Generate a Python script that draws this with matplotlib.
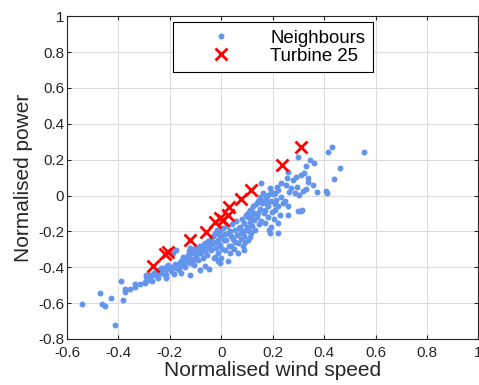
import numpy as np
import matplotlib.pyplot as plt

plt.rcParams['font.family'] = ['Liberation Sans', 'DejaVu Sans']

# neighbours (normalised wind speed, normalised power)
nb_wind = [
    -0.541, -0.473, -0.464, -0.453, -0.430, -0.412, -0.392, -0.382, -0.376, -0.376,
    -0.356, -0.334, -0.334, -0.317, -0.295, -0.291, -0.278, -0.271, -0.265, -0.298,
    -0.291, -0.285, -0.278,
    -0.259, -0.259, -0.252, -0.246, -0.243, -0.240, -0.233, -0.227, -0.224, -0.220,
    -0.214, -0.214, -0.210, -0.207, -0.200, -0.194, -0.190, -0.188, -0.185, -0.181,
    -0.178, -0.175, -0.170, -0.165, -0.162, -0.160, -0.155, -0.152, -0.149, -0.145,
    -0.140, -0.136, -0.132, -0.128, -0.126, -0.123, -0.123, -0.120, -0.117, -0.115,
    -0.110, -0.110, -0.107, -0.105, -0.100, -0.097, -0.095, -0.092, -0.090, -0.088,
    -0.084, -0.084, -0.082, -0.078, -0.075, -0.071, -0.070, -0.068, -0.065, -0.065,
    -0.062, -0.058, -0.055, -0.052, -0.052, -0.049, -0.045, -0.042, -0.039, -0.036,
    -0.033, -0.030, -0.026, -0.026, -0.022, -0.020, -0.016, -0.013, -0.013, -0.013,
    -0.010, -0.007, -0.007, -0.004, 0.000, 0.000, 0.003, 0.006, 0.010, 0.013,
    0.016, 0.019, 0.022, 0.026, 0.026, 0.029, 0.032, 0.035, 0.039, 0.039,
    0.042, 0.045, 0.048, 0.052, 0.055, 0.058, 0.062, 0.065, 0.065, 0.068,
    0.071, 0.075, 0.078, 0.081, 0.084, 0.088, 0.090, 0.090, 0.090, 0.094,
    0.097, 0.100, 0.103, 0.103, 0.103, 0.107, 0.110, 0.110, 0.113, 0.116,
    0.116, 0.116, 0.120, 0.123, 0.126, 0.129, 0.132, 0.136, 0.139, 0.142,
    0.142, 0.146, 0.149, 0.152, 0.155, 0.155, 0.158, 0.162, 0.162, 0.165,
    0.168, 0.168, 0.172, 0.175, 0.178, 0.181, 0.181, 0.181, 0.185, 0.188,
    0.191, 0.194, 0.194, 0.194, 0.198, 0.201, 0.204, 0.207, 0.207, 0.210,
    0.214, 0.217, 0.220, 0.220, 0.220, 0.220, 0.227, 0.233, 0.233, 0.240,
    0.246, 0.252, 0.255, 0.259, 0.259, 0.259, 0.265, 0.272, 0.278, 0.285,
    0.291, 0.295, 0.298, 0.298, 0.304, 0.311, 0.311, 0.315, 0.317, 0.323,
    0.330, 0.330, 0.336, 0.339, 0.343, 0.356, 0.362, 0.373, 0.408, 0.410,
    0.414, 0.430, 0.437, 0.462, 0.554,
]
nb_power = [
    -0.605, -0.544, -0.605, -0.618, -0.574, -0.720, -0.477, -0.585, -0.520, -0.540,
    -0.522, -0.510, -0.494, -0.494, -0.483, -0.442, -0.460, -0.475, -0.440, -0.488,
    -0.455, -0.470, -0.445,
    -0.442, -0.425, -0.450, -0.460, -0.414, -0.430, -0.405, -0.405, -0.438, -0.420,
    -0.442, -0.460, -0.395, -0.386, -0.410, -0.423, -0.400, -0.321, -0.440, -0.382,
    -0.405, -0.302, -0.395, -0.415, -0.395, -0.370, -0.432, -0.360, -0.343, -0.385,
    -0.400, -0.367, -0.350, -0.330, -0.312, -0.293, -0.442, -0.375, -0.355, -0.320,
    -0.358, -0.312, -0.300, -0.385, -0.340, -0.330, -0.290, -0.360, -0.310, -0.320,
    -0.312, -0.414, -0.280, -0.321, -0.300, -0.293, -0.350, -0.270, -0.265, -0.395,
    -0.310, -0.275, -0.330, -0.256, -0.284, -0.410, -0.300, -0.240, -0.302, -0.270,
    -0.228, -0.350, -0.210, -0.340, -0.260, -0.290, -0.190, -0.247, -0.321, -0.364,
    -0.220, -0.200, -0.377, -0.275, -0.228, -0.349, -0.300, -0.180, -0.250, -0.302,
    -0.215, -0.247, -0.170, -0.210, -0.367, -0.280, -0.320, -0.195, -0.228, -0.284,
    -0.160, -0.240, -0.300, -0.191, -0.260, -0.140, -0.220, -0.265, -0.321, -0.180,
    -0.173, -0.240, -0.210, -0.130, -0.280, -0.195, -0.154, -0.228, -0.302, -0.260,
    -0.110, -0.175, -0.117, -0.098, -0.247, -0.200, -0.080, -0.150, -0.230, -0.080,
    -0.117, -0.210, -0.170, -0.061, -0.100, -0.135, -0.190, -0.050, -0.120, -0.033,
    -0.098, -0.160, -0.006, -0.075, 0.069, -0.140, -0.040, 0.013, -0.033, -0.100,
    -0.080, -0.154, -0.010, -0.024, -0.050, 0.004, -0.061, -0.117, -0.190, -0.210,
    0.040, 0.022, -0.033, -0.173, -0.090, 0.010, -0.130, 0.013, -0.080, -0.045,
    -0.024, 0.050, 0.032, -0.061, -0.154, -0.210, -0.110, 0.069, -0.006, -0.040,
    -0.033, 0.060, 0.100, 0.134, -0.061, -0.108, 0.020, 0.041, 0.085, 0.013,
    0.106, 0.050, 0.217, -0.089, 0.004, 0.115, -0.089, -0.083, 0.028, 0.125,
    0.162, 0.036, 0.097, 0.078, 0.199, 0.060, 0.184, 0.019, 0.026, 0.013,
    0.245, 0.270, 0.091, 0.156, 0.243,
]

# turbine 25
t25_wind = [-0.266, -0.220, -0.207, -0.123, -0.058, -0.026, -0.007, 0.006, 0.026,
            0.028, 0.078, 0.116, 0.237, 0.310]
t25_power = [-0.395, -0.325, -0.317, -0.250, -0.206, -0.145, -0.125, -0.135, -0.108,
             -0.062, -0.018, 0.032, 0.171, 0.273]

axcol = '#262626'
fig = plt.figure(figsize=(4.79, 3.85), dpi=100)
ax = fig.add_axes([0.1399, 0.1195, 0.859, 0.8384])

ax.plot(nb_wind, nb_power, '.', color='#6495ed', markersize=6.5,
        label='Neighbours', zorder=3)
ax.plot(t25_wind, t25_power, 'x', color='red', markersize=8, markeredgewidth=2,
        label='Turbine 25', zorder=4)

ax.set_xlim(-0.6, 1)
ax.set_ylim(-0.8, 1)
ax.set_xticks(np.arange(-0.6, 1.01, 0.2))
ax.set_yticks(np.arange(-0.8, 1.01, 0.2))
ax.set_xticklabels(['-0.6', '-0.4', '-0.2', '0', '0.2', '0.4', '0.6', '0.8', '1'])
ax.set_yticklabels(['-0.8', '-0.6', '-0.4', '-0.2', '0', '0.2', '0.4', '0.6', '0.8', '1'])
ax.grid(True, color='#dcdcdc', linewidth=0.8, zorder=0)
ax.set_axisbelow(True)
ax.tick_params(direction='in', length=3, width=0.8, top=True, right=True,
               labelsize=11, colors=axcol)
ax.tick_params(axis='x', pad=5)
ax.tick_params(axis='y', pad=2)
for s in ax.spines.values():
    s.set_color(axcol)
    s.set_linewidth(0.8)

ax.set_xlabel('Normalised wind speed', fontsize=15, color=axcol, labelpad=1)
ax.set_ylabel('Normalised power', fontsize=15, color=axcol, labelpad=4)

leg = ax.legend(loc='upper center', fontsize=13.4, fancybox=False, framealpha=1,
                edgecolor='black', borderpad=0.4, handlelength=4.4,
                handletextpad=0.45, labelspacing=0.05, borderaxespad=0.32)
leg.get_frame().set_linewidth(0.8)

fig.savefig('out.png', dpi=100)
